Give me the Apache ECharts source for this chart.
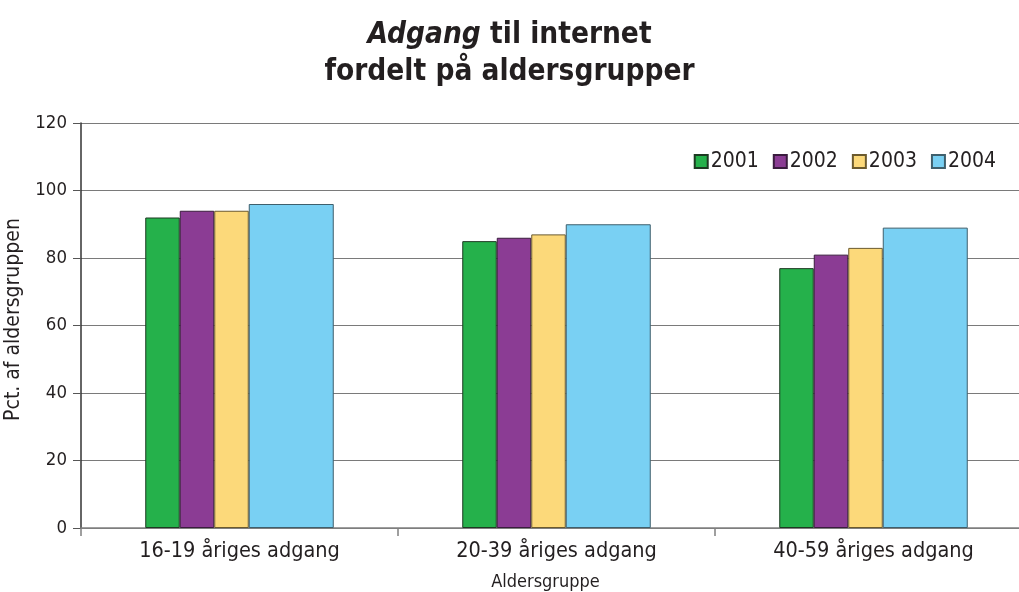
<!DOCTYPE html>
<html>
<head>
<meta charset="utf-8">
<script src="https://cdn.jsdelivr.net/npm/echarts@6/dist/echarts.min.js"></script>
<style>
  html, body { margin: 0; padding: 0; background: #fff; }
  #chart { width: 1019px; height: 592px; }
</style>
</head>
<body>
<div id="chart"></div>
<script>
var categories = ['16-19 åriges adgang', '20-39 åriges adgang', '40-59 åriges adgang'];
var years = ['2001', '2002', '2003', '2004'];
var v2001 = [92, 85, 77];
var v2002 = [94, 86, 81];
var v2003 = [94, 87, 83];
var v2004 = [96, 90, 89];
var yTicks = [0, 20, 40, 60, 80, 100, 120];

var font = '"Liberation Sans Narrow", "DejaVu Sans Condensed", "Noto Sans", sans-serif';
var colors = ['#25b14b', '#8b3c94', '#fcd97a', '#79d0f3'];
var borders = ['#1d3a22', '#3a1c3e', '#6b5a2e', '#3f5f6c'];
var widths = [34.5, 34.5, 34.5, 85];
var values = [v2001, v2002, v2003, v2004];

var series = years.map(function (y, i) {
    return {
        name: y,
        type: 'bar',
        data: values[i],
        barWidth: widths[i],
        barGap: '0%',
        itemStyle: { color: colors[i], borderColor: borders[i], borderWidth: 1 }
    };
});

var option = {
    animation: false,
    textStyle: { fontFamily: font },
    title: {
        text: '{i|Adgang} til internet\nfordelt på aldersgrupper',
        left: 'center',
        top: 12,
        textStyle: {
            fontFamily: font,
            fontSize: 29.5,
            fontWeight: 'bold',
            color: '#231f20',
            lineHeight: 37,
            rich: {
                i: { fontFamily: font, fontSize: 29.5, fontWeight: 'bold', fontStyle: 'italic', color: '#231f20' }
            }
        }
    },
    legend: {
        data: years,
        right: 18,
        top: 146,
        itemWidth: 13,
        itemHeight: 13,
        itemGap: 14,
        icon: 'rect',
        textStyle: { fontFamily: font, fontSize: 21, color: '#231f20', padding: [0, 0, 0, -2] }
    },
    grid: { left: 81, top: 123, width: 951, height: 405, outerBoundsMode: 'none' },
    xAxis: {
        type: 'category',
        data: categories,
        name: 'Aldersgruppe',
        nameLocation: 'middle',
        nameGap: 45,
        nameTextStyle: { fontFamily: font, fontSize: 18, color: '#231f20', padding: [0, 22, 0, 0] },
        axisLine: { lineStyle: { color: '#808080', width: 1.5 } },
        axisTick: { show: true, length: 8, lineStyle: { color: '#808080', width: 1.5 } },
        axisLabel: { fontFamily: font, fontSize: 21.5, color: '#231f20', margin: 12 },
        splitLine: { show: false }
    },
    yAxis: {
        type: 'value',
        min: yTicks[0],
        max: yTicks[yTicks.length - 1],
        interval: 20,
        name: 'Pct. af aldersgruppen',
        nameLocation: 'middle',
        nameGap: 54,
        nameRotate: 90,
        nameTextStyle: { fontFamily: font, fontSize: 21, color: '#231f20', padding: [0, 0, 0, 12] },
        axisLine: { show: true, lineStyle: { color: '#333', width: 1.5 } },
        axisTick: { show: true, length: 8, lineStyle: { color: '#555' } },
        axisLabel: { fontFamily: font, fontSize: 18.5, color: '#231f20', margin: 14 },
        splitLine: { show: true, lineStyle: { color: '#7a7a7a', width: 1.2 } }
    },
    series: series
};

echarts.init(document.getElementById('chart')).setOption(option);
</script>
</body>
</html>
